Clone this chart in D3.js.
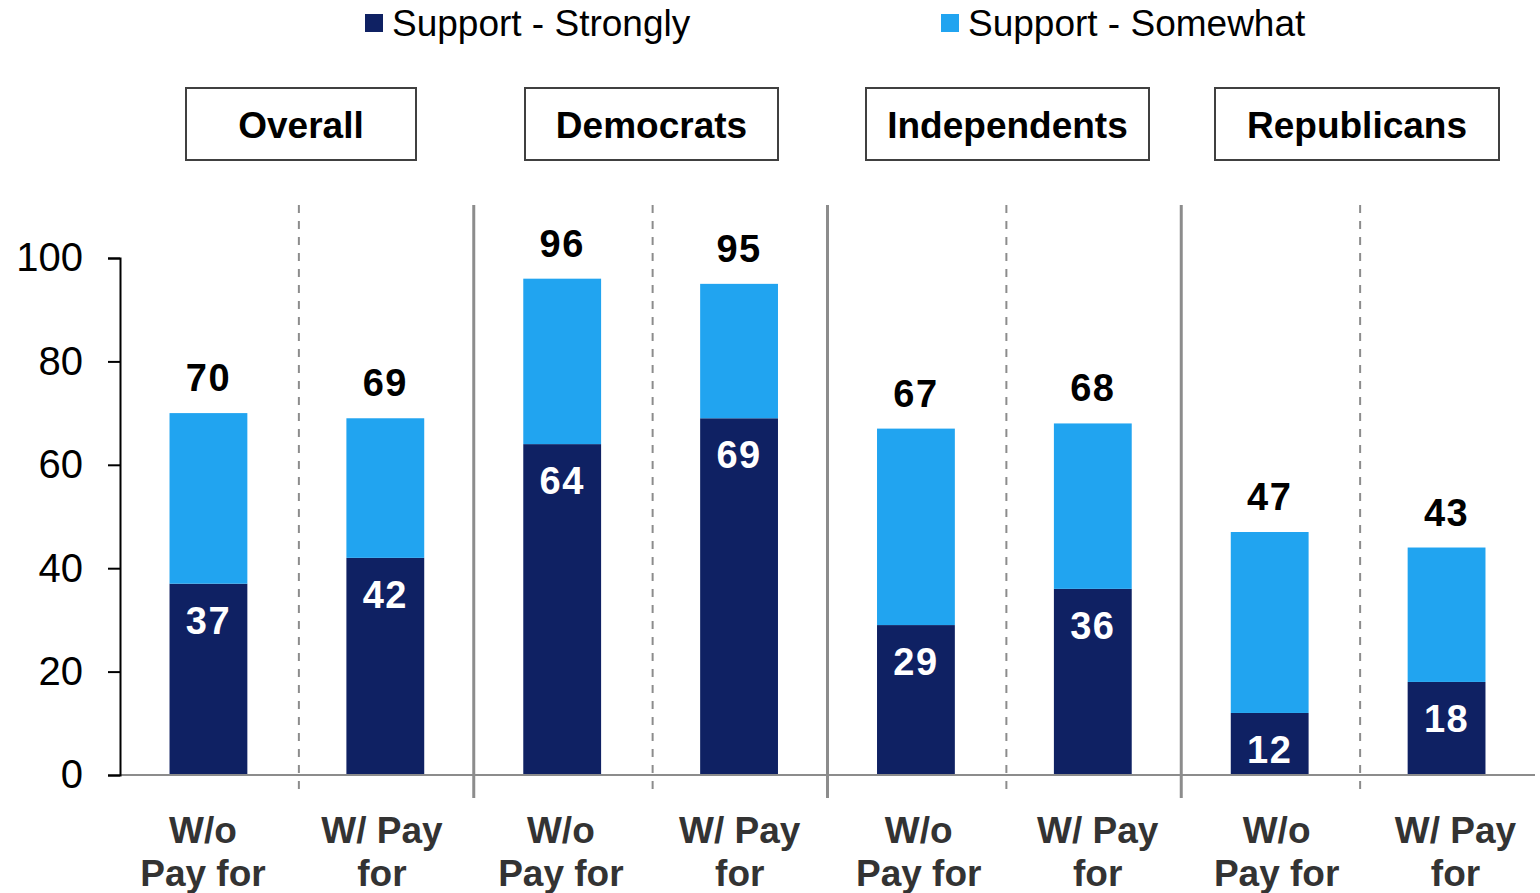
<!DOCTYPE html>
<html><head><meta charset="utf-8">
<script src="https://cdn.jsdelivr.net/npm/d3@7"></script>
<style>body{margin:0;background:#fff}svg{display:block}text{font-family:"Liberation Sans",Arial,sans-serif}</style>
</head><body><svg id="c" width="1540" height="893"></svg>
<script>
const categories = ["o-wo","o-w","d-wo","d-w","i-wo","i-w","r-wo","r-w"];
const xLabels = [["W/o","Pay for"],["W/ Pay","for"],["W/o","Pay for"],["W/ Pay","for"],["W/o","Pay for"],["W/ Pay","for"],["W/o","Pay for"],["W/ Pay","for"]];
const strongly = [37,42,64,69,29,36,12,18];
const somewhat = [33,27,32,26,38,32,35,26];
const totalLabels = [70,69,96,95,67,68,47,43];
const groups = ["Overall","Democrats","Independents","Republicans"];
const seriesNames = ["Support - Strongly","Support - Somewhat"];
const yTicks = [0,20,40,60,80,100];
const colors = ["#0F2163","#21A4F0"];

const svg = d3.select("#c");
const x = d3.scaleBand().domain(categories).range([120,1535]).padding(0);
const xl = d3.scaleBand().domain(categories).range([113.5,1545]).padding(0);
const y = d3.scaleLinear().domain([0,100]).range([775,258]);
const bw = x.bandwidth()*0.44;

// dividers
categories.forEach((c,i)=>{
  if(i===0) return;
  const xp = x(c);
  if(i%2===1){
    svg.append("line").attr("x1",xp+2).attr("x2",xp+2).attr("y1",205).attr("y2",795)
      .attr("stroke","#8c8c8c").attr("stroke-width",2).attr("stroke-dasharray","8,8");
  } else {
    svg.append("line").attr("x1",xp).attr("x2",xp).attr("y1",205).attr("y2",798)
      .attr("stroke","#8c8c8c").attr("stroke-width",3);
  }
});

// bars
const stack = categories.map((c,i)=>({c,s:strongly[i],m:somewhat[i],t:strongly[i]+somewhat[i],lab:totalLabels[i]}));
const g = svg.append("g");
g.selectAll(".s").data(stack).join("rect")
  .attr("x",d=>x(d.c)+(x.bandwidth()-bw)/2).attr("width",bw)
  .attr("y",d=>y(d.s)).attr("height",d=>y(0)-y(d.s)).attr("fill",colors[0]);
g.selectAll(".m").data(stack).join("rect")
  .attr("x",d=>x(d.c)+(x.bandwidth()-bw)/2).attr("width",bw)
  .attr("y",d=>y(d.t)).attr("height",d=>y(d.s)-y(d.t)).attr("fill",colors[1]);

// x baseline
svg.append("line").attr("x1",120).attr("x2",1535).attr("y1",y(0)).attr("y2",y(0))
  .attr("stroke","#8c8c8c").attr("stroke-width",2);

// y axis
const ya = svg.append("g").attr("transform","translate(120,0)")
  .call(d3.axisLeft(y).tickValues(yTicks).tickSize(12).tickPadding(25));
ya.select(".domain").attr("stroke","#000").attr("stroke-width",2);
ya.selectAll(".tick line").attr("stroke","#000").attr("stroke-width",2);
ya.selectAll("text").attr("font-size",40).attr("fill","#000").attr("font-family","Liberation Sans, Arial");

// labels
g.selectAll(".tl").data(stack).join("text")
  .attr("x",d=>x(d.c)+x.bandwidth()/2).attr("y",d=>y(d.t)-22)
  .attr("text-anchor","middle").attr("font-size",38).attr("letter-spacing",1.5).attr("font-weight","bold").attr("fill","#000")
  .text(d=>d.lab);
g.selectAll(".il").data(stack).join("text")
  .attr("x",d=>x(d.c)+x.bandwidth()/2).attr("y",d=>y(d.s)+50)
  .attr("text-anchor","middle").attr("font-size",38).attr("letter-spacing",1.5).attr("font-weight","bold").attr("fill","#fff")
  .text(d=>d.s);

// x labels
categories.forEach((c,i)=>{
  xLabels[i].forEach((ln,j)=>{
    svg.append("text").attr("x",xl(c)+xl.bandwidth()/2).attr("y",843+j*43)
      .attr("text-anchor","middle").attr("font-size",37).attr("font-weight","bold").attr("fill","#333")
      .text(ln);
  });
});

// group boxes
const boxes = [[186,416],[525,778],[866,1149],[1215,1499]];
groups.forEach((gname,i)=>{
  const [a,b] = boxes[i];
  svg.append("rect").attr("x",a).attr("y",88).attr("width",b-a).attr("height",72)
    .attr("fill","#fff").attr("stroke","#404040").attr("stroke-width",2);
  svg.append("text").attr("x",(a+b)/2).attr("y",138).attr("text-anchor","middle")
    .attr("font-size",37).attr("font-weight","bold").attr("fill","#000").text(gname);
});

// legend
const legX = [365,941];
seriesNames.forEach((n,i)=>{
  svg.append("rect").attr("x",legX[i]).attr("y",14).attr("width",18).attr("height",18).attr("fill",colors[i]);
  svg.append("text").attr("x",legX[i]+27).attr("y",36).attr("font-size",37).attr("fill","#000").text(n);
});
</script></body></html>
